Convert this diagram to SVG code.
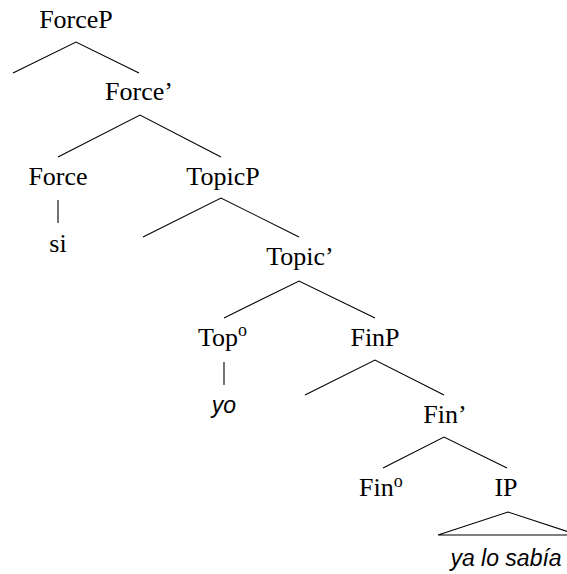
<svg xmlns="http://www.w3.org/2000/svg" width="567" height="574" viewBox="0 0 567 574">
  <style>
    .lbl { font-family: "Liberation Serif", "Times New Roman", serif; font-size: 26px; fill: #000; text-anchor: middle; }
    .lbl-start { font-family: "Liberation Serif", "Times New Roman", serif; font-size: 26px; fill: #000; }
    .sup { font-size: 18px; }
    .word { font-family: "Liberation Sans", Arial, sans-serif; font-style: italic; font-size: 23px; fill: #000; text-anchor: middle; }
    .edge { stroke: #000; stroke-width: 1.1; fill: none; }
  </style>
  <rect width="567" height="574" fill="#fff"/>

  <!-- branches -->
  <g id="connectors">
    <polyline class="edge" points="13,73 76,42 139,73"/>
    <polyline class="edge" points="58,157 140,115 221,157"/>
    <line class="edge" x1="58" y1="200" x2="58" y2="223"/>
    <polyline class="edge" points="143,237 221,198 299,237"/>
    <polyline class="edge" points="224,318 299,281 375,318"/>
    <line class="edge" x1="224" y1="362" x2="224" y2="385"/>
    <polyline class="edge" points="305,395 375,360 444,395"/>
    <polyline class="edge" points="383,468 444,437 507,468"/>
    <polygon class="edge" points="438,535 508,512 578,535"/>
  </g>

  <!-- nodes -->
  <g id="forceP"><text class="lbl" x="76" y="28">ForceP</text></g>
  <g id="force-bar"><text class="lbl" x="139" y="100">Force’</text></g>
  <g id="force"><text class="lbl" x="58" y="185">Force</text></g>
  <g id="si"><text class="lbl" x="58" y="252">si</text></g>
  <g id="topicP"><text class="lbl" x="223" y="185">TopicP</text></g>
  <g id="topic-bar"><text class="lbl" x="300" y="265">Topic’</text></g>
  <g id="top0"><text class="lbl-start" x="198" y="346">Top<tspan class="sup" dy="-10">o</tspan></text></g>
  <g id="yo"><text class="word" x="224" y="413">yo</text></g>
  <g id="finP"><text class="lbl" x="375" y="346">FinP</text></g>
  <g id="fin-bar"><text class="lbl" x="445" y="423">Fin’</text></g>
  <g id="fin0"><text class="lbl-start" x="359" y="496">Fin<tspan class="sup" dy="-9">o</tspan></text></g>
  <g id="IP"><text class="lbl" x="506" y="496">IP</text></g>
  <g id="ip-words"><text class="word" x="506" y="566">ya lo sabía</text></g>
</svg>
